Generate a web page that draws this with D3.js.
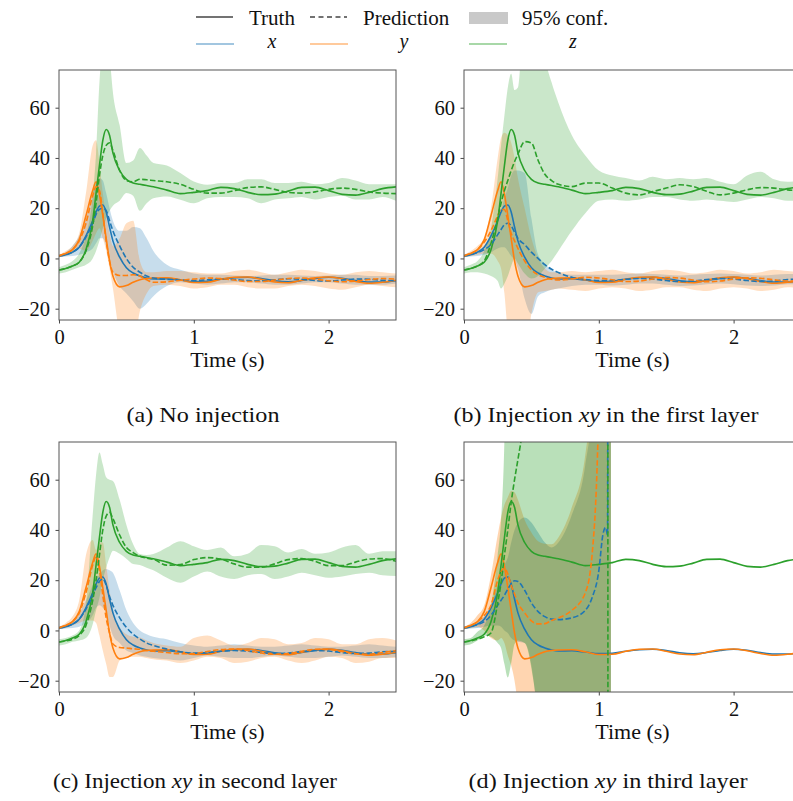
<!DOCTYPE html>
<html>
<head>
<meta charset="utf-8">
<script src="https://cdn.jsdelivr.net/npm/d3@7.9.0/dist/d3.min.js"></script>
<style>
  body { margin: 0; background: #fff; }
  svg { display: block; }
  svg text { font-family: "Liberation Serif", "DejaVu Serif", serif; fill: #111; }
</style>
</head>
<body>
<svg id="chart" width="793" height="801"></svg>
<script>
// time grid (s) shared by the truth and panels a-c
const times = [0, .05, .1, .15, .2, .25, .275, .3, .325, .35, .375, .4, .45, .5, .55, .6, .65, .7,
  .8, .9, 1.0, 1.1, 1.2, 1.3, 1.4, 1.5, 1.6, 1.7, 1.8, 1.9, 2.0, 2.1, 2.2, 2.3, 2.4, 2.5];
// panel d stops predicting just after 1 s
const timesD = [0, .05, .1, .15, .2, .25, .275, .3, .325, .35, .375, .4, .45, .5, .55, .6, .65, .7,
  .8, .9, .95, 1.0, 1.03, 1.05, 1.065, 1.07, 1.09];

const truthX = [1, 1.5, 2.5, 4.5, 9, 15, 18.5, 20.8, 21.3, 18.5, 12.5, 7, 0.5, -3.7, -5.8, -7, -7.8, -8.2,
  -8.1, -8.6, -9.2, -9.1, -8.3, -7.7, -7.5, -8, -8.9, -9.3, -8.8, -8, -7.5, -7.9, -8.8, -9.4, -9.4, -8.9];
const truthY = [1, 2, 3.5, 7.5, 17, 27, 30.5, 25.5, 17, 8, -1, -7, -11.3, -10.8, -9.5, -8.5, -8, -7.8,
  -7.7, -8.5, -9.6, -9.5, -8.3, -7.5, -7.4, -8.3, -9.4, -9.7, -8.7, -7.7, -7.4, -8.1, -9.2, -9.9, -9.5, -8.7];
const truthZ = [-4.6, -4, -3, -1.5, 3.5, 15, 26, 37, 47, 51.3, 49, 42, 35, 31.5, 30, 29.5, 29, 28.5,
  27.2, 25.8, 26.3, 27, 28.3, 27.8, 26.3, 25.4, 25.6, 26.8, 28.3, 28.4, 27, 25.5, 25.2, 26.3, 27.8, 28.5];

// (a) no injection
const aPredX = [1, 1.5, 2.5, 4.5, 8.5, 14, 17.5, 19.5, 20, 19, 15, 11, 5, 0, -3.5, -5.5, -7, -7.8,
  -8.3, -8.5, -8.8, -8.5, -8.2, -8.4, -8.8, -8.9, -8.5, -8.1, -8.3, -8.8, -9, -8.6, -8.2, -8.3, -8.7, -8.8];
const aPredY = [1, 2, 3.5, 7, 14, 25, 28.5, 27, 18, 7, -1, -5.5, -6.8, -6.8, -6.5, -7, -8.5, -9.5,
  -9.3, -8.7, -8.2, -7.8, -8, -8.6, -9.2, -9.2, -8.6, -8, -7.8, -8.2, -8.9, -9.3, -9, -8.4, -8, -8.2];
const aPredZ = [-4.6, -4, -3, -1.5, 3, 13, 22, 33, 41, 45, 46, 43, 35, 31, 30.5, 31.5, 31.3, 31,
  30.5, 29.5, 27.5, 26, 26, 27, 28.2, 28.5, 27.5, 26.3, 26, 26.5, 27.5, 28, 27.5, 26.5, 26, 25.8];
const aLoX = [0.5, 0.8, 1, 1.5, 2.5, 4, 6, 8, 8, 5, 0, -5, -11, -14, -17, -20, -18, -15,
  -11, -9.5, -10, -10.5, -10, -9.5, -9.5, -10, -10.5, -10.5, -10, -9.5, -9.5, -10, -10.5, -10.5, -10.5, -10];
const aHiX = [1.5, 2.5, 5, 9, 16, 26, 30, 32, 31, 26, 20, 15, 11, 11, 12.5, 12, 8, 3,
  -2.5, -4.5, -6, -6.5, -6.5, -6.8, -7, -6.8, -6.5, -6.5, -6.8, -7, -6.8, -6.5, -6.5, -7, -7, -6.8];
const aLoY = [0.5, 1, 2, 4, 3, 7, 10, 12, 8, 3, -4, -12, -30, -35, -35, -21, -14, -11,
  -10.5, -11, -12, -11.5, -10.5, -10.5, -11.5, -12, -12, -11, -10.5, -11, -12, -12.5, -11.5, -10.5, -11, -11.5];
const aHiY = [1.5, 3, 5, 10, 26, 45, 47, 38, 26, 17, 10, 5, 8, 14, 15, -1, -5.5, -5.5,
  -5, -5, -5.5, -6, -6, -5, -4.5, -5.5, -6.5, -5.5, -4.5, -5, -6, -6.5, -5.5, -5, -5.5, -6];
const aLoZ = [-6, -5.5, -4.5, -3.5, -2.5, 0, 3, 7, 12, 16, 19, 21, 23, 26, 25, 19, 22, 24,
  24.7, 23.4, 22, 24, 24.5, 24.5, 24, 22, 23.5, 24, 24.5, 23.5, 24.5, 25, 23.5, 23.5, 24.5, 23];
const aHiZ = [-3.5, -2.5, -1, 2, 9, 25, 42, 70, 85, 85, 80, 66, 53, 38, 39, 44, 41, 38,
  37, 34, 30.6, 29.3, 30, 30, 31.5, 31.5, 30, 30, 30.5, 29.5, 30, 32, 31, 29.5, 29.5, 29.5];

// (b) injection xy in the first layer
const bPredX = [1, 1.5, 2.3, 3.5, 5.5, 9.5, 11.5, 13.5, 14, 13, 10.5, 8, 5.5, 2.5, 0, -2.5, -4.3, -5.6,
  -7.5, -8.4, -8.8, -8.8, -8.3, -8, -8.2, -8.8, -9.2, -9, -8.4, -8, -8.2, -8.8, -9.2, -9, -8.4, -8.2];
const bPredY = [1, 2, 3.5, 6.5, 11, 17, 19.5, 19.5, 15, 10, 7, 4, -1, -4.5, -6.5, -7.5, -8.3, -8.6,
  -8.2, -7.5, -7.8, -8.5, -9.2, -9, -8.2, -7.6, -7.8, -8.6, -9.3, -9, -8.2, -7.7, -7.9, -8.5, -9, -8.8];
const bPredZ = [-4.6, -4, -3, -1, 6, 16, 22, 27, 31, 35, 38.5, 41.5, 46.5, 46, 39, 33.5, 31, 29.5,
  28.6, 30, 30, 28, 26, 25.3, 26.6, 28, 29.3, 28.6, 26.7, 25.3, 26, 27.3, 28.2, 28, 27.3, 27];
const bLoX = [0.5, 0.8, 1, 1.5, 2.5, 4, 4.5, 4.5, 3, 1, -0.5, -4, -16, -22, -15, -13.5, -12.5, -12,
  -11, -10.5, -10.5, -10.8, -10.5, -10, -10, -10.5, -11, -10.8, -10.3, -10, -10.3, -10.8, -11, -10.8, -10.3, -10.3];
const bHiX = [1.5, 2.5, 3.5, 5, 9, 14, 19, 24, 28, 33, 35, 35, 34, 16, 1.5, -2, -4.5, -5.5,
  -6.5, -6.5, -6.5, -6.5, -6.2, -6, -6.2, -6.5, -6.8, -6.5, -6.2, -6, -6.2, -6.5, -6.8, -6.5, -6.2, -6.2];
const bLoY = [0.5, 1, 1.5, 2, 2, -1, -4, -14, -30, -40, -40, -40, -40, -22, -13.5, -13, -12.5, -12,
  -12.5, -13, -12, -11.5, -12, -13, -12.5, -11.5, -11.5, -12.5, -13, -12, -11.5, -12, -13, -12.5, -11.5, -12];
const bHiY = [1.5, 3, 5, 8, 20, 40, 48, 50, 49, 46, 40, 32, 20, 8, 0, -4, -5.5, -5.5,
  -5, -5.5, -5, -4.5, -5.5, -6, -5, -4.5, -5, -6, -5.5, -4.5, -5, -6, -5.5, -4.5, -5, -5.5];
const bLoZ = [-6, -5.5, -5.5, -6, -7, -9, -12, -10, -7, -3, 0, -2, -6, -8, -7, -4, -1, 3,
  11, 18, 23, 23.5, 23, 23.5, 24.5, 24.5, 23.5, 23, 23.5, 23, 22.5, 23.5, 24.5, 24, 23, 23];
const bHiZ = [-3.5, -2.5, -1, 3, 12, 32, 45, 57, 68, 73.5, 67, 68, 100, 100, 100, 80, 70, 62,
  49, 41, 35, 33, 32, 31, 32.5, 31.5, 32, 31.5, 32, 30.5, 29.5, 33, 34.5, 31.5, 30.5, 31];

// (c) injection xy in second layer
const cPredX = [1, 1.5, 2.5, 4.5, 8.5, 14, 17, 19.5, 20.5, 18, 13.5, 10, 5, 1.2, -1.5, -3.4, -5, -6,
  -7.4, -8.5, -9, -8.8, -8.3, -8, -8.2, -8.8, -9.2, -9, -8.4, -8, -8.2, -8.8, -9.2, -9, -8.5, -8.3];
const cPredY = [1, 2, 3.5, 7, 15, 26, 29.5, 24, 14, 5, -1, -5.4, -6.8, -7, -7.3, -7.5, -8, -8.3,
  -8.8, -9.3, -9.2, -8.4, -7.6, -7.4, -8, -9, -9.5, -9.2, -8.3, -7.5, -7.6, -8.4, -9.3, -9.5, -8.8, -8];
const cPredZ = [-4.6, -4.2, -3.5, -2, 2, 12, 20, 30, 40, 45.5, 47, 44.5, 38, 33, 31, 29.5, 28.8, 28.3,
  26, 26.2, 28.2, 29, 28.4, 26.5, 25.2, 25.2, 26.5, 28.2, 28.6, 27.5, 25.8, 25.8, 27.2, 28.4, 28.6, 27.5];
const cLoX = [0.5, 0.8, 1, 1.5, 3, 6, 9, 10, 9, 7, 2, -2, -5, -8, -9, -10, -10.5, -11,
  -11.5, -12, -11, -10, -10.5, -11, -11, -10.5, -10, -10.5, -11, -11, -10.5, -10, -10.5, -11, -11, -10.5];
const cHiX = [1.5, 2.5, 4, 7, 12, 18, 21, 22, 24, 24.5, 24, 23, 16, 8, 3, 0, -1.5, -2.5,
  -3.5, -5, -6, -6.5, -6, -5.5, -6, -6.5, -6.5, -6, -5.5, -6, -6.5, -6.5, -6, -5.5, -6, -6.5];
const cLoY = [0.5, 1, 2, 3, 4, 4, 3, -2, -8, -13.4, -18.5, -18.5, -12, -10.7, -10.5, -10.5, -11, -11.5,
  -12, -13, -12, -10.5, -11, -13, -12.5, -11, -10.5, -12, -13, -12, -10.5, -11, -13, -12.5, -11, -11];
const cHiY = [1.5, 3, 5.5, 12, 30, 36, 32, 35, 35, 26, 16, 8, 1.2, -1.5, -2.5, -2.8, -4, -5,
  -6, -6.5, -3, -2, -4, -6, -5, -3, -3.5, -5.5, -5, -3, -3.5, -5.5, -5.5, -3.5, -3, -4];
const cLoZ = [-6, -5.5, -4.5, -4, -3, 2.5, 8, 13, 20, 25, 29, 31.7, 30.5, 28.5, 26.4, 26, 25, 24,
  21, 19, 21.5, 23.5, 21.5, 20.5, 22, 22.5, 20.5, 21.5, 23, 22, 21, 21.5, 22.5, 23, 22, 21.7];
const cHiZ = [-3.5, -3, -2, 0, 10.5, 46, 62, 70.8, 66, 61, 60, 59.5, 52, 42, 34.3, 30.4, 30, 30.4,
  33, 35.5, 33.5, 32, 33, 29.5, 30.5, 34, 33.5, 31, 32.4, 30.5, 31, 33, 34, 30.5, 31.5, 31.5];

// (d) injection xy in third layer (prediction blows up)
const dPredX = [1, 1.5, 2.3, 3.5, 6, 10, 12, 14, 16.5, 18.5, 19.8, 19.5, 16, 11, 7.5, 5.5, 4.5, 4.3,
  5, 8, 13, 23.7, 38, 41, 38, 300, 300];
const dPredY = [1, 2, 3.5, 6, 10, 20, 23.5, 24.8, 22.5, 18, 14.5, 11, 7, 3.8, 2.6, 2.7, 4, 5,
  8, 15, 30, 90, 200, 300, 300, 300, 300];
const dPredZ = [-4.6, -4.2, -3.5, -2.5, -1, 11, 19, 30, 40, 51, 60, 68, 85, 110, 150, 200, 250, 300,
  300, 300, 300, 300, 300, 300, 300, -300, -300];
const dLoX = [0.5, 0.8, 1, 1.5, 2, 2, 1.5, 0, -1, -3, -4, -4.5, -5, -14, -40, -100, -200, -300,
  -300, -300, -300, -300, -300, -300, -300, -300, -300];
const dHiX = [1.5, 2.5, 3.5, 5.5, 10, 18, 22, 26, 29, 35, 40, 43, 45, 43, 39, 35, 33, 35,
  46, 66, 90, 200, 300, 300, 300, 300, 300];
const dLoY = [0.5, 1, 1.5, 0, -3, -4, -3, -5, -10, -14, -20, -30, -60, -100, -300, -300, -300, -300,
  -300, -300, -300, -300, -300, -300, -300, -300, -300];
const dHiY = [1.5, 3, 6, 10, 22, 38, 45, 50, 53, 55.5, 55, 52, 44, 39, 35.5, 34.5, 34.3, 37,
  49, 70, 100, 200, 300, 300, 300, 300, 300];
const dLoZ = [-6, -5.5, -4, -2, -2.5, -5, -7, -13.4, -18.7, -13, -5.4, -4, -5, -15, -40, -300, -300, -300,
  -300, -300, -300, -300, -300, -300, -300, -300, -300];
const dHiZ = [-3.5, -3, -0.5, 2, 10, 30, 44, 76, 150, 300, 300, 300, 300, 300, 300, 300, 300, 300,
  300, 300, 300, 300, 300, 300, 300, 300, 300];

const yTicks = [-20, 0, 20, 40, 60];
const xTicks = [0, 1, 2];
const captions = ['(a) No injection', '(b) Injection xy in the first layer',
  '(c) Injection xy in second layer', '(d) Injection xy in third layer'];
const varNames = ['x', 'y', 'z'];
const colors = ['#1f77b4', '#ff7f0e', '#2ca02c'];

const panels = [
  { left: 59, top: 70, t: times, pred: [aPredX, aPredY, aPredZ], lo: [aLoX, aLoY, aLoZ], hi: [aHiX, aHiY, aHiZ],
    caption: captions[0], capX: 203, capY: 422, capW: 153, alpha: 0.25 },
  { left: 464, top: 70, t: times, pred: [bPredX, bPredY, bPredZ], lo: [bLoX, bLoY, bLoZ], hi: [bHiX, bHiY, bHiZ],
    caption: captions[1], capX: 606, capY: 422, capW: 305, alpha: 0.25 },
  { left: 59, top: 442, t: times, pred: [cPredX, cPredY, cPredZ], lo: [cLoX, cLoY, cLoZ], hi: [cHiX, cHiY, cHiZ],
    caption: captions[2], capX: 195, capY: 788, capW: 284, alpha: 0.25 },
  { left: 464, top: 442, t: timesD, pred: [dPredX, dPredY, dPredZ], lo: [dLoX, dLoY, dLoZ], hi: [dHiX, dHiY, dHiZ],
    caption: captions[3], capX: 608, capY: 788, capW: 279, alpha: 0.33 },
];

const svg = d3.select('#chart');
const plotW = 337, plotH = 250;
const serif = '"Liberation Serif", "DejaVu Serif", serif';

function drawPanel(p, idx) {
  const x = d3.scaleLinear().domain([0, 2.5]).range([p.left, p.left + plotW]);
  const y = d3.scaleLinear().domain([-24.5, 75]).range([p.top + plotH, p.top]);
  const g = svg.append('g');

  const clipId = 'clip' + idx;
  svg.append('clipPath').attr('id', clipId)
    .append('rect').attr('x', p.left).attr('y', p.top).attr('width', plotW).attr('height', plotH);
  const plot = g.append('g').attr('clip-path', `url(#${clipId})`);

  // 95% bands
  p.lo.forEach((lo, k) => {
    const area = d3.area()
      .x((d, i) => x(p.t[i]))
      .y0((d, i) => y(lo[i]))
      .y1((d, i) => y(p.hi[k][i]))
      .curve(d3.curveMonotoneX);
    plot.append('path').attr('d', area(lo)).attr('fill', colors[k]).attr('fill-opacity', p.alpha);
  });

  // truth and prediction lines
  [truthX, truthY, truthZ].forEach((tr, k) => {
    const line = d3.line().x((d, i) => x(times[i])).y(d => y(d)).curve(d3.curveMonotoneX);
    plot.append('path').attr('d', line(tr)).attr('fill', 'none')
      .attr('stroke', colors[k]).attr('stroke-width', 1.6);
  });
  p.pred.forEach((pr, k) => {
    const line = d3.line().x((d, i) => x(p.t[i])).y(d => y(d)).curve(d3.curveMonotoneX);
    plot.append('path').attr('d', line(pr)).attr('fill', 'none')
      .attr('stroke', colors[k]).attr('stroke-width', 1.6).attr('stroke-dasharray', '5.5,2.4');
  });

  // axes
  const yAxis = g.append('g').attr('transform', `translate(${p.left},0)`)
    .call(d3.axisLeft(y).tickValues(yTicks).tickSize(3.5).tickPadding(5.5)
      .tickFormat(d => d < 0 ? '\u2212' + Math.abs(d) : d));
  const xAxis = g.append('g').attr('transform', `translate(0,${p.top + plotH})`)
    .call(d3.axisBottom(x).tickValues(xTicks).tickSize(3.5).tickPadding(5.8).tickFormat(d3.format('d')));
  [yAxis, xAxis].forEach(a => {
    a.attr('font-family', null);
    a.select('.domain').remove();
    a.selectAll('line').attr('stroke', '#333').attr('stroke-width', 0.9);
    a.selectAll('text').attr('font-size', 20.5).attr('fill', '#111').style('font-family', serif);
  });

  g.append('rect').attr('x', p.left).attr('y', p.top).attr('width', plotW).attr('height', plotH)
    .attr('fill', 'none').attr('stroke', '#555').attr('stroke-width', 1);

  g.append('text').attr('x', p.left + plotW / 2).attr('y', p.top + plotH + 46.5)
    .attr('text-anchor', 'middle').attr('font-size', 22).style('font-family', serif).text('Time (s)');

  // caption with italic "xy"
  const cap = g.append('text').attr('x', p.capX).attr('y', p.capY).attr('text-anchor', 'middle')
    .attr('font-size', 21).style('font-family', serif)
    .attr('textLength', p.capW).attr('lengthAdjust', 'spacingAndGlyphs');
  const parts = p.caption.split(' xy ');
  cap.append('tspan').text(parts[0] + (parts.length > 1 ? ' ' : ''));
  if (parts.length > 1) {
    cap.append('tspan').attr('font-style', 'italic').text('xy');
    cap.append('tspan').text(' ' + parts[1]);
  }
}

panels.forEach(drawPanel);

// legend (3 columns x 2 rows)
const legend = svg.append('g').style('font-family', serif);
const legendCols = [196, 310, 469];
const row1 = 17, row2 = 44;
legend.append('line').attr('x1', legendCols[0]).attr('x2', legendCols[0] + 37).attr('y1', row1).attr('y2', row1)
  .attr('stroke', '#444').attr('stroke-width', 1.3);
legend.append('text').attr('x', 249).attr('y', 25).attr('font-size', 21).text('Truth');
legend.append('line').attr('x1', legendCols[1]).attr('x2', legendCols[1] + 37).attr('y1', row1).attr('y2', row1)
  .attr('stroke', '#444').attr('stroke-width', 1.3).attr('stroke-dasharray', '5,3.5');
legend.append('text').attr('x', 363).attr('y', 25).attr('font-size', 21).text('Prediction');
legend.append('rect').attr('x', legendCols[2]).attr('y', 12).attr('width', 39).attr('height', 12)
  .attr('fill', '#c9c9c9');
legend.append('text').attr('x', 522).attr('y', 25).attr('font-size', 21).text('95% conf.');
const varLabelX = [272, 404, 573];
varNames.forEach((v, k) => {
  legend.append('line').attr('x1', legendCols[k]).attr('x2', legendCols[k] + 38).attr('y1', row2).attr('y2', row2)
    .attr('stroke', colors[k]).attr('stroke-opacity', 0.55).attr('stroke-width', 1.6);
  legend.append('text').attr('x', varLabelX[k]).attr('y', 48).attr('text-anchor', 'middle')
    .attr('font-size', 20).attr('font-style', 'italic').text(v);
});
</script>
</body>
</html>
